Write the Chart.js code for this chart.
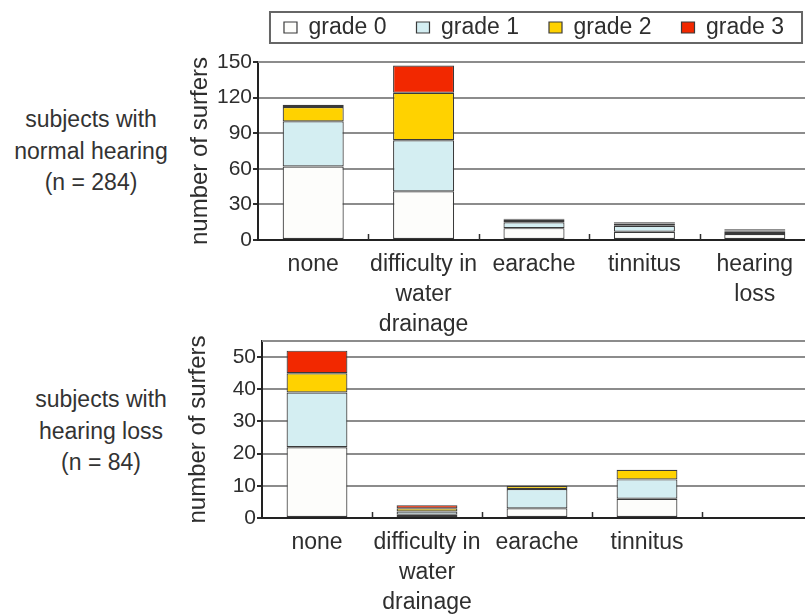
<!DOCTYPE html>
<html>
<head>
<meta charset="utf-8">
<title>Ear symptoms of surfers by grade</title>
<script src="https://cdn.jsdelivr.net/npm/chart.js@4.4.1/dist/chart.umd.min.js"></script>
<style>
  html, body { margin: 0; padding: 0; background: #fff; }
  body {
    width: 805px; height: 614px; overflow: hidden; position: relative;
    font-family: "Liberation Sans", Arial, sans-serif; color: #333;
  }
  canvas { position: absolute; }
  #topChart { left: 180px; top: -14px; }
  #bottomChart { left: 184px; top: 326px; }
  .group {
    position: absolute; width: 182px; text-align: center; white-space: nowrap;
    font-size: 23px; line-height: 31.6px;
  }
  #topGroup { left: 0; top: 104px; }
  #bottomGroup { left: 10px; top: 384px; }
</style>
</head>
<body>
<div class="group" id="topGroup">subjects with<br>normal hearing<br>(n = 284)</div>
<canvas id="topChart" width="630" height="354"></canvas>
<div class="group" id="bottomGroup">subjects with<br>hearing loss<br>(n = 84)</div>
<canvas id="bottomChart" width="628" height="292"></canvas>
<script>
const gradeNames = ['grade 0', 'grade 1', 'grade 2', 'grade 3'];

const normalSymptoms = ['none', ['difficulty in', 'water', 'drainage'], 'earache', 'tinnitus', ['hearing', 'loss']];
const normalGrade0 = [62, 41, 10, 7, 5];
const normalGrade1 = [38, 43, 5, 5, 2];
const normalGrade2 = [12, 40, 2, 2, 1];
const normalGrade3 = [2, 23, 1, 1, 1];
const normalTicks = [0, 30, 60, 90, 120, 150];

// no hearing loss column for this group, the slot stays empty
const lossSymptoms = ['none', ['difficulty in', 'water', 'drainage'], 'earache', 'tinnitus', ''];
const lossGrade0 = [22, 1, 3, 6, null];
const lossGrade1 = [17, 1, 6, 6, null];
const lossGrade2 = [6, 1, 1, 3, null];
const lossGrade3 = [7, 1, 0, 0, null];
const lossTicks = [0, 10, 20, 30, 40, 50];

const fills = ['#fdfdfb', '#d4eef2', '#ffd200', '#f22800'];
const ink = '#2e2e2e';
const gridGray = '#8c8c8c';

Chart.defaults.font.family = '"Liberation Sans", Arial, sans-serif';
Chart.defaults.color = ink;

function makeDatasets(series) {
  return series.map((data, i) => ({
    label: gradeNames[i],
    data: data,
    backgroundColor: fills[i],
    borderColor: '#3a3a3a',
    borderWidth: 1.2,
    borderSkipped: false,
    categoryPercentage: 1,
    barPercentage: 0.553
  }));
}

// legend: extra room below it, centred over the plot, framed
const legendOverPlot = {
  id: 'legendOverPlot',
  beforeLayout(chart, args, opts) {
    const legend = chart.legend;
    if (!legend || legend.$gapAdded) return;
    const fit = legend.fit;
    legend.fit = function () {
      fit.call(this);
      this.height += opts.gap;
    };
    legend.$gapAdded = true;
  },
  afterLayout(chart) {
    const legend = chart.legend;
    const area = chart.chartArea;
    const shift = (area.left + area.right) / 2 - (legend.left + legend.right) / 2;
    legend.left += shift;
    legend.right += shift;
  },
  afterDraw(chart) {
    const boxes = chart.legend.legendHitBoxes;
    if (!boxes || !boxes.length) return;
    const ctx = chart.ctx;
    const left = Math.min(...boxes.map(b => b.left)) - 14;
    const right = Math.max(...boxes.map(b => b.left + b.width)) + 18;
    const mid = boxes[0].top + boxes[0].height / 2;
    ctx.save();
    ctx.strokeStyle = '#666';
    ctx.lineWidth = 2;
    ctx.strokeRect(left, mid - 15.5, right - left, 31);
    ctx.restore();
  }
};

// grey line along the top of the plot, small upward ticks between categories
const plotFrame = {
  id: 'plotFrame',
  beforeDatasetsDraw(chart) {
    const {ctx, chartArea} = chart;
    ctx.save();
    ctx.strokeStyle = gridGray;
    ctx.lineWidth = 2;
    ctx.beginPath();
    ctx.moveTo(chartArea.left, chartArea.top);
    ctx.lineTo(chartArea.right, chartArea.top);
    ctx.stroke();
    ctx.restore();
  },
  afterDatasetsDraw(chart) {
    const {ctx, chartArea} = chart;
    const x = chart.scales.x;
    const n = x.getLabels().length;
    const step = x.getPixelForValue(1) - x.getPixelForValue(0);
    ctx.save();
    ctx.strokeStyle = ink;
    ctx.lineWidth = 1.5;
    ctx.beginPath();
    for (let i = 1; i <= n; i++) {
      const px = Math.round(x.getPixelForValue(i) - step / 2) + 0.5;
      ctx.moveTo(px, chartArea.bottom);
      ctx.lineTo(px, chartArea.bottom - 6);
    }
    ctx.stroke();
    ctx.restore();
  }
};

function makeOptions(yMax, tickValues, titlePad, showLegend) {
  return {
    responsive: false,
    animation: false,
    devicePixelRatio: 1,
    layout: { padding: { top: showLegend ? 0 : 15 } },
    plugins: {
      tooltip: { enabled: false },
      legend: {
        display: showLegend,
        labels: { font: { size: 23 }, color: ink, boxWidth: 13, boxHeight: 11, padding: 30 }
      },
      legendOverPlot: { gap: 13 }
    },
    scales: {
      x: {
        stacked: true,
        grid: { display: false },
        border: { color: '#222', width: 2 },
        ticks: { padding: 2, autoSkip: false, maxRotation: 0, font: { size: 23, lineHeight: 1.3 }, color: ink },
        afterFit(scale) { scale.height = 100; }
      },
      y: {
        stacked: true,
        min: 0,
        max: yMax,
        afterBuildTicks(scale) { scale.ticks = tickValues.map(value => ({ value })); },
        ticks: { padding: 1, font: { size: 21 }, color: ink },
        grid: { color: gridGray, lineWidth: 2, tickLength: 5, tickColor: ink, tickWidth: 2 },
        border: { color: '#222', width: 2 },
        title: {
          display: true,
          text: 'number of surfers',
          font: { size: 24 },
          color: ink,
          padding: { top: titlePad, bottom: 0 }
        },
        afterFit(scale) { scale.width = 78; }
      }
    }
  };
}

new Chart(document.getElementById('topChart'), {
  type: 'bar',
  data: {
    labels: normalSymptoms,
    datasets: makeDatasets([normalGrade0, normalGrade1, normalGrade2, normalGrade3])
  },
  options: makeOptions(150, normalTicks, 6, true),
  plugins: [legendOverPlot, plotFrame]
});

new Chart(document.getElementById('bottomChart'), {
  type: 'bar',
  data: {
    labels: lossSymptoms,
    datasets: makeDatasets([lossGrade0, lossGrade1, lossGrade2, lossGrade3])
  },
  options: makeOptions(55, lossTicks, 0, false),
  plugins: [plotFrame]
});
</script>
</body>
</html>
